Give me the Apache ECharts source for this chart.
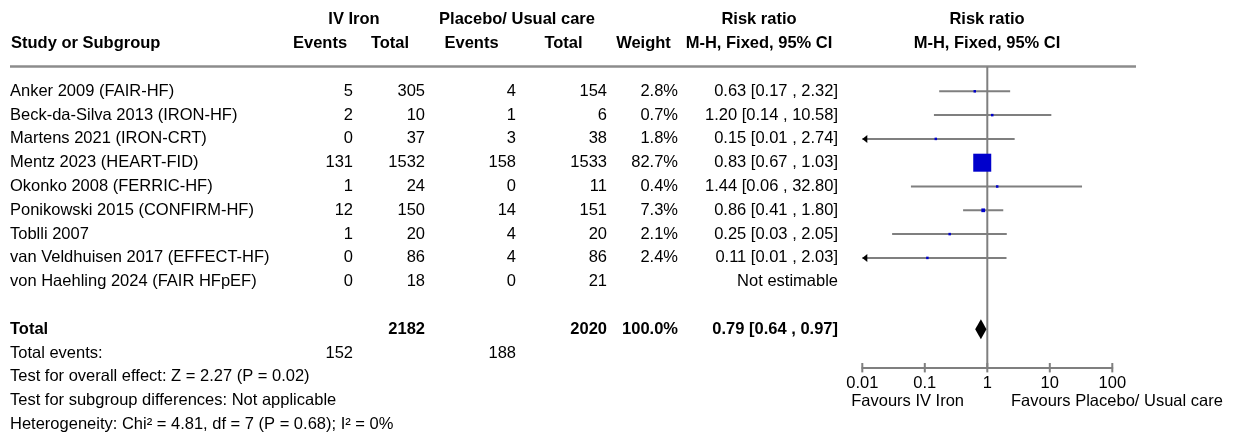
<!DOCTYPE html>
<html><head><meta charset="utf-8">
<script src="https://cdn.jsdelivr.net/npm/echarts@6/dist/echarts.min.js"></script>
<style>html,body{margin:0;padding:0;background:#fff}#c{width:1241px;height:434px}</style>
</head><body><div id="c"></div>
<script>
// ---------- data ----------
const studies = ['Anker 2009 (FAIR-HF)','Beck-da-Silva 2013 (IRON-HF)','Martens 2021 (IRON-CRT)','Mentz 2023 (HEART-FID)','Okonko 2008 (FERRIC-HF)','Ponikowski 2015 (CONFIRM-HF)','Toblli 2007','van Veldhuisen 2017 (EFFECT-HF)','von Haehling 2024 (FAIR HFpEF)'];
const ivEvents = [5,2,0,131,1,12,1,0,0];
const ivTotal = [305,10,37,1532,24,150,20,86,18];
const pcEvents = [4,1,3,158,0,14,4,4,0];
const pcTotal = [154,6,38,1533,11,151,20,86,21];
const weights = [2.8,0.7,1.8,82.7,0.4,7.3,2.1,2.4,null];
const rr = [0.63,1.20,0.15,0.83,1.44,0.86,0.25,0.11,null];
const ciLow = [0.17,0.14,0.01,0.67,0.06,0.41,0.03,0.01,null];
const ciHigh = [2.32,10.58,2.74,1.03,32.80,1.80,2.05,2.03,null];
const notEstimable = 'Not estimable';
const totalLabel = 'Total';
const totalIvTotal = 2182, totalPcTotal = 2020, totalWeight = 100.0;
const totalRR = 0.79, totalLow = 0.64, totalHigh = 0.97;
const totalEventsLabel = 'Total events:';
const totalIvEvents = 152, totalPcEvents = 188;
const footnotes = ['Test for overall effect: Z = 2.27 (P = 0.02)','Test for subgroup differences: Not applicable','Heterogeneity: Chi\u00b2 = 4.81, df = 7 (P = 0.68); I\u00b2 = 0%'];
const groupHeaders = ['IV Iron','Placebo/ Usual care','Risk ratio','Risk ratio'];
const colHeaders = ['Study or Subgroup','Events','Total','Events','Total','Weight','M-H, Fixed, 95% CI','M-H, Fixed, 95% CI'];
const tickValues = [0.01,0.1,1,10,100];
const tickLabels = ['0.01','0.1','1','10','100'];
const favourLeft = 'Favours IV Iron', favourRight = 'Favours Placebo/ Usual care';

// ---------- layout ----------
const W = 1241, H = 434, ROW0 = 91.3, ROWH = 23.8;
const rowOf = px => (px - ROW0) / ROWH;
const PLOT_L = 862.3, PLOT_R = 1112.3, PLOT_T = 66.5, PLOT_B = 367.7;
const FONT = '"Liberation Sans", Arial, sans-serif';
const FS = 16.5;
const GRAY = '#7f7f7f';
const fmtCI = (a,b,c) => a.toFixed(2) + ' [' + b.toFixed(2) + ' , ' + c.toFixed(2) + ']';

const items = [];
function T(x, row, text, align, bold) { items.push({x, row, text: String(text), align, bold: !!bold}); }
// headers
T(354, -3, groupHeaders[0], 'center', true);
T(517, -3, groupHeaders[1], 'center', true);
T(759, -3, groupHeaders[2], 'center', true);
T(987, -3, groupHeaders[3], 'center', true);
T(11, -2, colHeaders[0], 'left', true);
T(320, -2, colHeaders[1], 'center', true);
T(390, -2, colHeaders[2], 'center', true);
T(471.5, -2, colHeaders[3], 'center', true);
T(563.5, -2, colHeaders[4], 'center', true);
T(643.5, -2, colHeaders[5], 'center', true);
T(759, -2, colHeaders[6], 'center', true);
T(987, -2, colHeaders[7], 'center', true);
// study rows
const C_IVE = 353, C_IVT = 425, C_PCE = 516, C_PCT = 607, C_W = 678, C_CI = 838;
studies.forEach((s, i) => {
  T(10, i, s, 'left');
  T(C_IVE, i, ivEvents[i], 'right');
  T(C_IVT, i, ivTotal[i], 'right');
  T(C_PCE, i, pcEvents[i], 'right');
  T(C_PCT, i, pcTotal[i], 'right');
  if (weights[i] != null) T(C_W, i, weights[i].toFixed(1) + '%', 'right');
  T(C_CI, i, rr[i] != null ? fmtCI(rr[i], ciLow[i], ciHigh[i]) : notEstimable, 'right');
});
// totals
T(10, 10, totalLabel, 'left', true);
T(C_IVT, 10, totalIvTotal, 'right', true);
T(C_PCT, 10, totalPcTotal, 'right', true);
T(C_W, 10, totalWeight.toFixed(1) + '%', 'right', true);
T(C_CI, 10, fmtCI(totalRR, totalLow, totalHigh), 'right', true);
T(10, 11, totalEventsLabel, 'left');
T(C_IVE, 11, totalIvEvents, 'right');
T(C_PCE, 11, totalPcEvents, 'right');
footnotes.forEach((f, k) => T(10, 12 + k, f, 'left'));
T(964, rowOf(401.5), favourLeft, 'right');
T(1011, rowOf(401.5), favourRight, 'left');

const chart = echarts.init(document.getElementById('c'), null, {renderer: 'canvas'});
const studyData = [];
rr.forEach((v, i) => { if (v != null) studyData.push([v, i, ciLow[i], ciHigh[i], weights[i]]); });
const minV = tickValues[0], maxV = tickValues[tickValues.length - 1];

chart.setOption({
  animation: false,
  grid: [
    {left: 0, top: 0, width: W, height: H},
    {left: PLOT_L, top: PLOT_T, width: PLOT_R - PLOT_L, height: PLOT_B - PLOT_T}
  ],
  xAxis: [
    {type: 'value', gridIndex: 0, min: 0, max: W, show: false},
    {
      type: 'log', logBase: 10, gridIndex: 1, min: minV, max: maxV, position: 'bottom',
      splitLine: {show: false}, minorTick: {show: false},
      axisLine: {show: true, onZero: false, lineStyle: {color: GRAY, width: 2}},
      axisTick: {show: false},
      axisLabel: {show: true, margin: 7, fontFamily: FONT, fontSize: FS, color: '#000',
        formatter: v => tickLabels[tickValues.findIndex(t => Math.abs(Math.log10(t) - Math.log10(v)) < 1e-6)] || ''}
    }
  ],
  yAxis: [
    {type: 'value', gridIndex: 0, min: rowOf(0), max: rowOf(H), inverse: true, show: false},
    {type: 'value', gridIndex: 1, min: rowOf(PLOT_T), max: rowOf(PLOT_B), inverse: true, show: false}
  ],
  series: [
    { // header rule
      type: 'custom', xAxisIndex: 0, yAxisIndex: 0, silent: true,
      data: [[10, rowOf(66.5)]],
      renderItem: (params, api) => {
        const a = api.coord([10, rowOf(66.5)]), b = api.coord([1136, rowOf(66.5)]);
        return {type: 'line', shape: {x1: a[0], y1: a[1], x2: b[0], y2: b[1]}, style: {stroke: '#8c8c8c', lineWidth: 2.5}};
      }
    },
    { // line of no effect
      type: 'custom', xAxisIndex: 1, yAxisIndex: 1, silent: true,
      data: [[1, 0]],
      renderItem: (params, api) => {
        const a = api.coord([1, rowOf(PLOT_T)]), b = api.coord([1, rowOf(PLOT_B)]);
        return {type: 'line', shape: {x1: a[0], y1: a[1], x2: b[0], y2: b[1]}, style: {stroke: GRAY, lineWidth: 2}};
      }
    },
    { // axis ticks (crossing the axis line)
      type: 'custom', xAxisIndex: 1, yAxisIndex: 1, silent: true, clip: false,
      data: tickValues.map(t => [t, rowOf(PLOT_B)]),
      renderItem: (params, api) => {
        const p = api.coord([api.value(0), api.value(1)]);
        return {type: 'line', shape: {x1: p[0], y1: p[1] - 4.7, x2: p[0], y2: p[1] + 4.7}, style: {stroke: GRAY, lineWidth: 2}};
      }
    },
    { // study CIs and squares
      type: 'custom', xAxisIndex: 1, yAxisIndex: 1, silent: true, clip: false,
      data: studyData,
      renderItem: (params, api) => {
        const v = api.value(0), row = api.value(1), lo = api.value(2), hi = api.value(3), w = api.value(4);
        const a = api.coord([Math.max(lo, minV), row]), b = api.coord([Math.min(hi, maxV), row]), p = api.coord([v, row]);
        const ch = [{type: 'line', shape: {x1: a[0], y1: a[1], x2: b[0], y2: b[1]}, style: {stroke: GRAY, lineWidth: 2}}];
        if (lo <= minV) ch.push({type: 'polygon', shape: {points: [[a[0], a[1]], [a[0] + 5, a[1] - 4], [a[0] + 5, a[1] + 4]]}, style: {fill: '#000'}});
        const s = Math.max(2.5, 18 * Math.pow(w / 82.7, 0.65));
        ch.push({type: 'rect', shape: {x: p[0] - s / 2, y: p[1] - s / 2, width: s, height: s}, style: {fill: '#0000cc'}});
        return {type: 'group', children: ch};
      }
    },
    { // total diamond
      type: 'custom', xAxisIndex: 1, yAxisIndex: 1, silent: true,
      data: [[totalRR, 10, totalLow, totalHigh]],
      renderItem: (params, api) => {
        const v = api.value(0), row = api.value(1);
        const l = api.coord([api.value(2), row]), r = api.coord([api.value(3), row]), c = api.coord([v, row]);
        return {type: 'polygon', shape: {points: [[l[0], l[1]], [c[0], c[1] - 10], [r[0], r[1]], [c[0], c[1] + 10]]}, style: {fill: '#000'}};
      }
    },
    { // all text
      type: 'custom', xAxisIndex: 0, yAxisIndex: 0, silent: true,
      data: items.map(it => [it.x, it.row]),
      renderItem: (params, api) => {
        const it = items[params.dataIndex];
        const p = api.coord([it.x, it.row]);
        return {type: 'text', x: p[0], y: p[1], style: {text: it.text, align: it.align, verticalAlign: 'middle',
          fontFamily: FONT, fontSize: FS, fontWeight: it.bold ? 'bold' : 'normal', fill: '#000'}};
      }
    }
  ]
});
</script></body></html>
